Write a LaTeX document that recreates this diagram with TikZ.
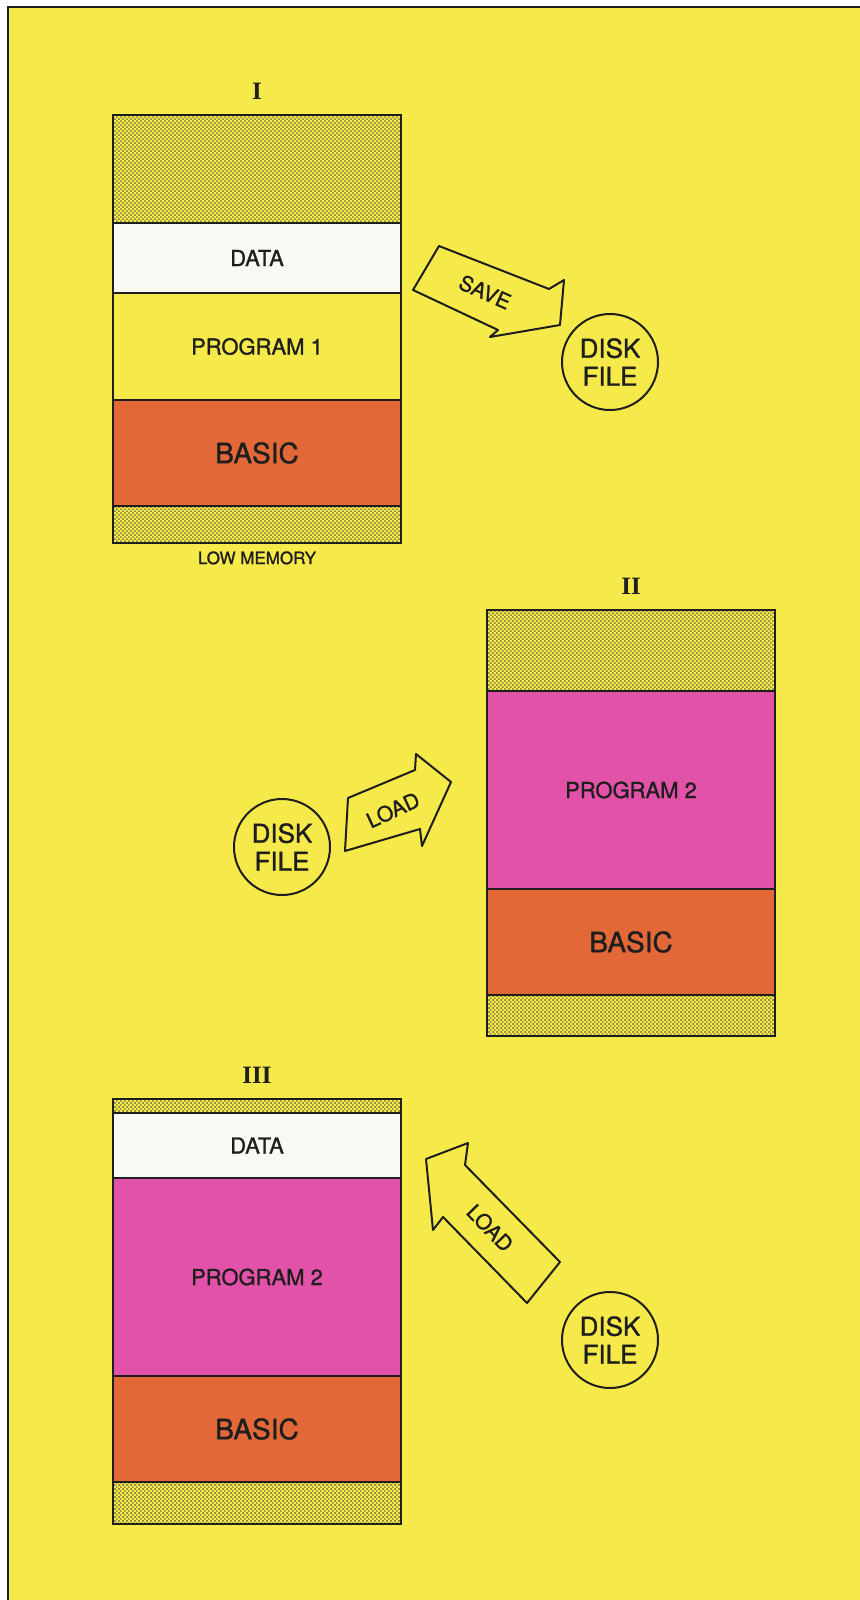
\documentclass[tikz,border=0pt]{standalone}
\usepackage{fontspec}
\setmainfont{TeX Gyre Heros}[FakeBold=1.2]
\newfontfamily\romfont{Liberation Serif}
\usepackage{tikz}
\usetikzlibrary{positioning, patterns}

\definecolor{paper}{RGB}{246,234,74}
\definecolor{basic}{RGB}{226,104,56}
\definecolor{prog}{RGB}{226,82,168}
\definecolor{data}{RGB}{250,248,242}
\definecolor{ink}{RGB}{30,30,30}

\pgfdeclarepatternformonly{stipple}{\pgfqpoint{0pt}{0pt}}{\pgfqpoint{2.2pt}{2.2pt}}{\pgfqpoint{2.2pt}{2.2pt}}{
	\pgfpathcircle{\pgfqpoint{0.55pt}{0.55pt}}{0.45pt}
	\pgfpathcircle{\pgfqpoint{1.65pt}{1.65pt}}{0.45pt}
	\pgfusepath{fill}
}

\tikzset{
	band/.style={draw=ink, line width=1pt, minimum width=144pt, inner sep=0pt, outer sep=0pt, text=ink, font=\fontsize{11}{13}\selectfont},
	free/.style={band, pattern=stipple, pattern color=ink!90},
	databand/.style={band, fill=data},
	progone/.style={band, fill=paper},
	progtwo/.style={band, fill=prog},
	basicband/.style={band, fill=basic, font=\fontsize{14}{16}\selectfont},
	roman/.style={inner sep=0pt, text=ink, font=\romfont\bfseries\fontsize{12.5}{14}\selectfont},
	disk/.style={draw=ink, line width=1pt, circle, minimum size=48pt, inner sep=0pt, align=center, text=ink, font=\fontsize{13}{14}\selectfont},
	blockarrow/.style={draw=ink, line width=1pt, line join=round, fill=paper},
	arrowtext/.style={inner sep=0pt, text=ink, font=\fontsize{10.5}{12}\selectfont}
}

\begin{document}
\begin{tikzpicture}[x=0.5pt, y=-0.5pt]
	\useasboundingbox (0,0) rectangle (860,1600);
	\fill[paper] (8,7) rectangle (860,1600);
	\draw[ink, line width=1.2pt] (8,1600) -- (8,7) -- (860,7);

	\node[free, minimum height=54pt, anchor=north west] (top1) at (113,115) {};
	\node[databand, minimum height=35pt, below=0pt of top1] (data1) {DATA};
	\node[progone, minimum height=53.5pt, below=0pt of data1] (prog1) {PROGRAM 1};
	\node[basicband, minimum height=53pt, below=0pt of prog1] (basic1) {BASIC};
	\node[free, minimum height=18.5pt, below=0pt of basic1] (low1) {};
	\node[roman, above=7.5pt of top1] (one) {I};
	\node[inner sep=0pt, text=ink, font=\fontsize{8.5}{10}\selectfont, below=4pt of low1] (lowmem) {LOW MEMORY};

	\node[free, minimum height=40.5pt, anchor=north west] (top2) at (487,610) {};
	\node[progtwo, minimum height=99pt, below=0pt of top2] (prog2) {PROGRAM 2};
	\node[basicband, minimum height=53pt, below=0pt of prog2] (basic2) {BASIC};
	\node[free, minimum height=20.5pt, below=0pt of basic2] (low2) {};
	\node[roman, above=7.5pt of top2] (two) {II};

	\node[free, minimum height=7pt, anchor=north west] (top3) at (113,1099) {};
	\node[databand, minimum height=32.5pt, below=0pt of top3] (data3) {DATA};
	\node[progtwo, minimum height=99pt, below=0pt of data3] (prog3) {PROGRAM 2};
	\node[basicband, minimum height=53pt, below=0pt of prog3] (basic3) {BASIC};
	\node[free, minimum height=21pt, below=0pt of basic3] (low3) {};
	\node[roman, above=7.5pt of top3] (three) {III};

	\node[disk] (disk1) at (610,362) {DISK\\FILE};
	\node[disk] (disk2) at (282,847) {DISK\\FILE};
	\node[disk] (disk3) at (610,1340) {DISK\\FILE};

	\draw[blockarrow] (439,246) -- (549,289) -- (564,280) -- (560,325) -- (490,337) -- (498,330) -- (413,290) -- cycle;
	\node[arrowtext, rotate=-24] (save) at (485,292) {SAVE};

	\draw[blockarrow] (348,798) -- (415,770) -- (416,754) -- (451,782) -- (422,846) -- (420,829) -- (345,851) -- cycle;
	\node[arrowtext, rotate=25] (loadA) at (393,810) {LOAD};

	\draw[blockarrow] (426,1159) -- (468,1143) -- (465,1165) -- (560,1262) -- (527,1303) -- (443,1217) -- (433,1230) -- cycle;
	\node[arrowtext, rotate=-46] (loadB) at (490,1228) {LOAD};
\end{tikzpicture}
\end{document}
